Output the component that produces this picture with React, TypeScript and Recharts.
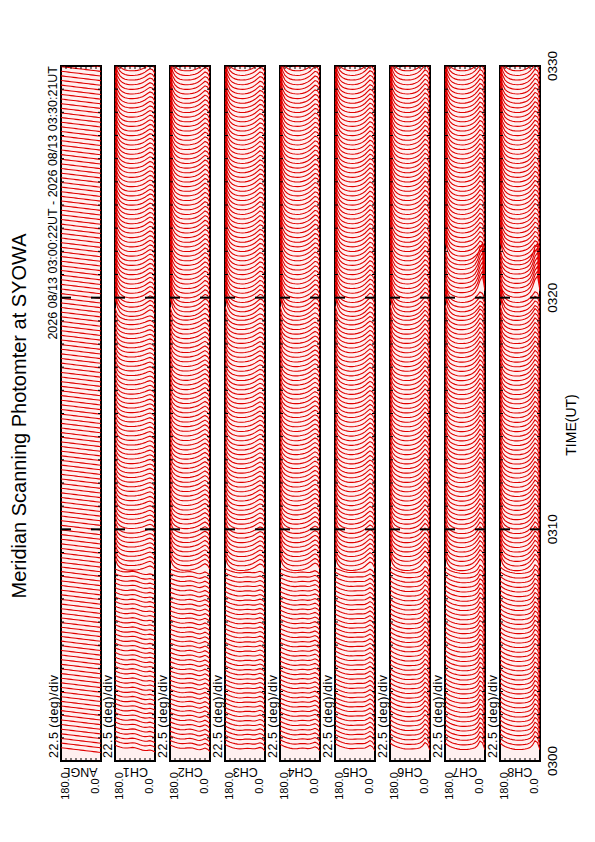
import React, { useMemo } from 'react';
import { LineChart, Line, XAxis, YAxis, ReferenceArea } from 'recharts';

// ---------- data ----------
const CHANNELS = ['ANGL', 'CH1', 'CH2', 'CH3', 'CH4', 'CH5', 'CH6', 'CH7', 'CH8'];
const ANGLES = [180, 168.75, 157.5, 146.25, 135, 123.75, 112.5, 101.25, 90, 78.75, 67.5, 56.25, 45, 33.75, 22.5, 11.25, 0];
const ANGLE_TICKS = [0, 22.5, 45, 67.5, 90, 112.5, 135, 157.5, 180];
const ANGLE_LABEL_TICKS = [0, 180];
const MINUTE_TICKS_S = [0, 60, 120, 180, 240, 300, 360, 420, 480, 540, 600, 660, 720, 780, 840, 900, 960, 1020, 1080, 1140, 1200, 1260, 1320, 1380, 1440, 1500, 1560, 1620, 1680, 1740, 1800];
const MAJOR_TICKS_S = [600, 1200];
const TIME_TICKS_S = [0, 600, 1200, 1800];
const TIME_TICK_LABELS = ['0300', '0310', '0320', '0330'];

// scans: first scan 03:00:22, one scan every 12 s
const SCAN_FIRST_S = 22;
const SCAN_STEP_S = 12;
const SCAN_COUNT = 149;
const EPOCH_STARTS_S = [0, 480, 1140];
const BURST_WINDOW_S = [1190, 1290];
const SECONDS_PER_UNIT = 3.9;

// profiles across the scan (180 deg -> 0 deg)
const ANGL_P = [3.2, 3.0, 2.8, 2.6, 2.4, 2.2, 2.0, 1.8, 1.6, 1.4, 1.2, 1.0, 0.8, 0.6, 0.4, 0.2, 0.0];

const CH1_E1 = [5.0, 4.2, 3.6, 3.2, 3.0, 3.0, 3.2, 3.4, 3.2, 2.7, 2.1, 1.6, 1.3, 1.4, 1.7, 1.2, 0.4];
const CH1_E2 = [9.0, 4.6, 2.9, 2.0, 1.5, 1.2, 1.1, 1.1, 1.2, 1.4, 1.7, 2.1, 2.7, 3.4, 3.9, 3.2, 1.4];
const CH1_E3 = [13.0, 6.2, 3.2, 1.8, 1.0, 0.6, 0.4, 0.4, 0.5, 0.7, 1.1, 1.7, 2.6, 3.8, 4.8, 4.2, 1.8];

const CH2_E1 = [5.0, 4.3, 3.7, 3.2, 2.9, 2.8, 2.9, 3.1, 3.2, 3.0, 2.5, 2.0, 1.8, 2.3, 3.0, 2.2, 0.6];
const CH2_E2 = [9.5, 4.8, 3.0, 2.0, 1.4, 1.1, 1.0, 1.0, 1.2, 1.5, 1.9, 2.5, 3.4, 4.5, 5.4, 4.4, 1.8];
const CH2_E3 = [13.5, 6.4, 3.3, 1.8, 1.0, 0.6, 0.4, 0.4, 0.5, 0.8, 1.2, 1.9, 3.0, 4.4, 5.8, 5.0, 2.0];

const CH3_E1 = [5.5, 4.5, 3.8, 3.2, 2.8, 2.5, 2.4, 2.5, 2.7, 2.8, 2.7, 2.5, 2.5, 2.9, 3.4, 2.8, 1.0];
const CH3_E2 = [10.0, 5.0, 3.1, 2.0, 1.4, 1.0, 0.9, 0.9, 1.0, 1.3, 1.7, 2.3, 3.2, 4.3, 5.2, 4.6, 2.2];
const CH3_E3 = [14.0, 6.8, 3.5, 2.0, 1.2, 0.7, 0.5, 0.4, 0.5, 0.8, 1.3, 2.0, 3.0, 4.4, 5.8, 5.2, 2.6];

const CH4_E1 = [5.5, 4.6, 3.9, 3.3, 2.9, 2.6, 2.5, 2.6, 2.8, 2.9, 2.8, 2.6, 2.7, 3.2, 3.8, 3.0, 1.0];
const CH4_E2 = [10.0, 5.0, 3.1, 2.0, 1.4, 1.0, 0.9, 0.9, 1.1, 1.4, 1.8, 2.5, 3.5, 4.8, 5.8, 5.0, 2.2];
const CH4_E3 = [14.0, 6.8, 3.5, 2.0, 1.2, 0.7, 0.5, 0.4, 0.5, 0.8, 1.3, 2.1, 3.2, 4.7, 6.2, 5.6, 2.6];

const CH5_E1 = [6.0, 5.0, 4.2, 3.6, 3.1, 2.8, 2.6, 2.6, 2.7, 2.8, 2.8, 2.8, 3.0, 3.8, 4.8, 3.8, 1.2];
const CH5_E2 = [10.5, 5.2, 3.2, 2.1, 1.5, 1.1, 0.9, 0.9, 1.1, 1.4, 1.9, 2.6, 3.7, 5.2, 6.5, 5.6, 2.4];
const CH5_E3 = [14.0, 6.8, 3.5, 2.0, 1.2, 0.7, 0.5, 0.4, 0.5, 0.8, 1.3, 2.1, 3.3, 5.0, 6.6, 5.8, 2.6];

const CH6_E1 = [6.5, 5.2, 4.3, 3.6, 3.1, 2.7, 2.4, 2.3, 2.3, 2.4, 2.5, 2.7, 3.2, 4.4, 6.6, 5.4, 1.6];
const CH6_E2 = [11.0, 5.4, 3.3, 2.2, 1.5, 1.1, 0.9, 0.9, 1.0, 1.3, 1.8, 2.6, 3.8, 5.6, 7.6, 6.2, 2.4];
const CH6_E3 = [14.0, 6.8, 3.5, 2.0, 1.2, 0.7, 0.5, 0.4, 0.5, 0.8, 1.3, 2.1, 3.4, 5.2, 7.2, 6.2, 2.6];

const CH7_E1 = [6.5, 5.0, 4.0, 3.3, 2.8, 2.4, 2.1, 2.0, 2.0, 2.1, 2.3, 2.6, 3.2, 4.6, 7.6, 6.4, 1.8];
const CH7_E2 = [11.0, 5.4, 3.2, 2.1, 1.4, 1.0, 0.8, 0.8, 0.9, 1.2, 1.7, 2.5, 3.8, 5.8, 8.4, 7.0, 2.6];
const CH7_E3 = [14.0, 6.8, 3.5, 2.0, 1.2, 0.7, 0.5, 0.4, 0.5, 0.8, 1.3, 2.1, 3.4, 5.2, 7.4, 6.4, 2.6];
const CH7_BURST = [11.0, 5.4, 3.2, 2.1, 1.4, 1.0, 0.8, 0.8, 0.9, 1.2, 1.7, 2.5, 4.0, 7.0, 12.0, 15.0, 5.0];

const CH8_E1 = [6.5, 5.0, 4.0, 3.3, 2.8, 2.4, 2.1, 2.0, 2.0, 2.1, 2.3, 2.6, 3.3, 4.8, 7.8, 6.6, 1.8];
const CH8_E2 = [11.0, 5.4, 3.2, 2.1, 1.4, 1.0, 0.8, 0.8, 0.9, 1.2, 1.7, 2.5, 3.9, 6.0, 8.6, 7.2, 2.6];
const CH8_E3 = [14.0, 6.8, 3.5, 2.0, 1.2, 0.7, 0.5, 0.4, 0.5, 0.8, 1.3, 2.1, 3.4, 5.3, 7.6, 6.6, 2.6];
const CH8_BURST = [11.0, 5.4, 3.2, 2.1, 1.4, 1.0, 0.8, 0.8, 0.9, 1.2, 1.7, 2.6, 4.2, 7.5, 12.5, 15.0, 5.0];

const PANEL_PROFILES = [
  [ANGL_P, ANGL_P, ANGL_P],
  [CH1_E1, CH1_E2, CH1_E3],
  [CH2_E1, CH2_E2, CH2_E3],
  [CH3_E1, CH3_E2, CH3_E3],
  [CH4_E1, CH4_E2, CH4_E3],
  [CH5_E1, CH5_E2, CH5_E3],
  [CH6_E1, CH6_E2, CH6_E3],
  [CH7_E1, CH7_E2, CH7_E3],
  [CH8_E1, CH8_E2, CH8_E3],
];
const PANEL_BURSTS = [null, null, null, null, null, null, null, CH7_BURST, CH8_BURST];

// ---------- layout ----------
const W = 842;
const H = 595;
const PLOT_LEFT = 81;
const PLOT_RIGHT = 776;
const PANEL_TOP0 = 60.5;
const PANEL_STEP = 54.9;
const PANEL_H = 40;
const PAD = 2;
const LABEL_AXIS_W = 40;
const FONT = '"Liberation Sans", Arial, Helvetica, sans-serif';
const RED = '#e00000';
const MINOR_LEN = 3;
const MAJOR_LEN = 10;

function buildTraces(index: number) {
  const profiles = PANEL_PROFILES[index];
  const burst = PANEL_BURSTS[index];
  const pts: { t: number; a: number | null }[] = [];
  for (let s = 0; s < SCAN_COUNT; s++) {
    const t = SCAN_FIRST_S + s * SCAN_STEP_S;
    let k = 0;
    EPOCH_STARTS_S.forEach((e, j) => {
      if (t >= e) k = j;
    });
    let prof = profiles[k];
    if (burst && t >= BURST_WINDOW_S[0] && t < BURST_WINDOW_S[1]) prof = burst;
    ANGLES.forEach((a, j) => pts.push({ t: t + prof[j] * SECONDS_PER_UNIT, a }));
    pts.push({ t, a: null });
  }
  return pts;
}

const timeTickLen = (v: number) => (MAJOR_TICKS_S.includes(v) ? MAJOR_LEN : MINOR_LEN);

const BottomTick = (p: any) => {
  const len = timeTickLen(p.payload.value);
  return <line x1={p.x} x2={p.x} y1={p.y} y2={p.y - len} stroke="#000" strokeWidth={len > 5 ? 2 : 1} />;
};
const TopTick = (p: any) => {
  const len = timeTickLen(p.payload.value);
  return <line x1={p.x} x2={p.x} y1={p.y} y2={p.y + len} stroke="#000" strokeWidth={len > 5 ? 2 : 1} />;
};
const LeftTick = (p: any) => <line x1={p.x} x2={p.x + MINOR_LEN} y1={p.y} y2={p.y} stroke="#000" strokeWidth={1} />;
const RightTick = (p: any) => <line x1={p.x} x2={p.x - MINOR_LEN} y1={p.y} y2={p.y} stroke="#000" strokeWidth={1} />;

const AngleLabelTick = (props: any) => {
  const { y, payload } = props;
  const v = payload.value as number;
  const dy = v === 180 ? 8 : -2.5;
  return (
    <text x={56} y={y + dy} textAnchor="middle" fontSize={11} fontFamily={FONT} fill="#000">
      {v.toFixed(1)}
    </text>
  );
};

const TimeLabelTick = (props: any) => {
  const { x, y, payload } = props;
  const label = TIME_TICK_LABELS[TIME_TICKS_S.indexOf(payload.value)];
  return (
    <text x={x} y={y + 17} textAnchor="middle" fontSize={13.5} fontFamily={FONT} fill="#000">
      {label}
    </text>
  );
};

function Panel({ index }: { index: number }) {
  const top = PANEL_TOP0 + index * PANEL_STEP;
  const isLast = index === CHANNELS.length - 1;
  const timeAxisH = isLast ? 24 : 0;
  const height = PANEL_H + 2 * PAD + timeAxisH;
  const data = useMemo(() => buildTraces(index), [index]);
  return (
    <div style={{ position: 'absolute', left: 0, top: top - PAD, width: W, height }}>
      <LineChart
        width={W}
        height={height}
        margin={{ top: PAD, bottom: PAD, left: PLOT_LEFT - LABEL_AXIS_W, right: W - PLOT_RIGHT }}
      >
        <XAxis xAxisId="b" type="number" dataKey="t" domain={[0, 1800]} allowDataOverflow orientation="bottom" mirror height={1}
          ticks={MINUTE_TICKS_S} interval={0} tick={BottomTick} tickSize={0} tickMargin={0} tickLine={false} axisLine={false} />
        <XAxis xAxisId="t" type="number" dataKey="t" domain={[0, 1800]} allowDataOverflow orientation="top" mirror height={1}
          ticks={MINUTE_TICKS_S} interval={0} tick={TopTick} tickSize={0} tickMargin={0} tickLine={false} axisLine={false} />
        {isLast && (
          <XAxis xAxisId="time" type="number" dataKey="t" domain={[0, 1800]} allowDataOverflow orientation="bottom" height={timeAxisH}
            ticks={TIME_TICKS_S} interval={0} tick={TimeLabelTick} tickSize={0} tickMargin={0} tickLine={false} axisLine={false} />
        )}
        <YAxis yAxisId="l" type="number" domain={[0, 180]} allowDataOverflow orientation="left" mirror width={1}
          ticks={ANGLE_TICKS} interval={0} tick={LeftTick} tickSize={0} tickMargin={0} tickLine={false} axisLine={false} />
        <YAxis yAxisId="r" type="number" domain={[0, 180]} allowDataOverflow orientation="right" mirror width={1}
          ticks={ANGLE_TICKS} interval={0} tick={RightTick} tickSize={0} tickMargin={0} tickLine={false} axisLine={false} />
        <YAxis yAxisId="lbl" type="number" domain={[0, 180]} allowDataOverflow orientation="left" width={LABEL_AXIS_W}
          ticks={ANGLE_LABEL_TICKS} interval={0} tick={AngleLabelTick} tickLine={false} axisLine={false} />
        <ReferenceArea xAxisId="b" yAxisId="l" x1={0} x2={1800} y1={0} y2={180} fill="#fff0f0" fillOpacity={1} stroke="none" />
        <Line xAxisId="b" yAxisId="l" data={data} dataKey="a" stroke={RED} strokeWidth={1.1} dot={false}
          activeDot={false} connectNulls={false} isAnimationActive={false} />
        <ReferenceArea xAxisId="t" yAxisId="r" x1={0} x2={1800} y1={0} y2={180} fill="none" stroke="#000" strokeWidth={2} />
      </LineChart>
    </div>
  );
}

function Overlay() {
  const txt = { fontFamily: FONT, fill: '#000' } as const;
  return (
    <svg width={W} height={H} style={{ position: 'absolute', left: 0, top: 0, pointerEvents: 'none' }}>
      <text x={426} y={26} fontSize={20} textAnchor="middle" {...txt}>Meridian Scanning Photomter at SYOWA</text>
      <text x={PLOT_RIGHT} y={57} fontSize={12.5} textAnchor="end" {...txt}>2026 08/13 03:00:22UT - 2026 08/13 03:30:21UT</text>
      <text x={417} y={575.5} fontSize={14} textAnchor="middle" {...txt}>TIME(UT)</text>
      {CHANNELS.map((ch, i) => {
        const top = PANEL_TOP0 + i * PANEL_STEP;
        const cy = top + PANEL_H / 2;
        return (
          <g key={ch}>
            <text x={84} y={top - 3} fontSize={12.5} letterSpacing={0.5} {...txt}>22.5 (deg)/div</text>
            <text x={74} y={cy} fontSize={12.5} textAnchor="middle" transform={`rotate(-90 74 ${cy})`} {...txt}>{ch}</text>
          </g>
        );
      })}
    </svg>
  );
}

export default function App() {
  return (
    <div style={{ position: 'absolute', left: 0, top: 0, width: 595, height: 842, overflow: 'hidden', background: '#fff' }}>
      <div
        style={{
          position: 'absolute',
          left: 0,
          top: 0,
          width: W,
          height: H,
          transformOrigin: '0 0',
          transform: `translateY(${W}px) rotate(-90deg)`,
        }}
      >
        {CHANNELS.map((ch, i) => (
          <Panel key={ch} index={i} />
        ))}
        <Overlay />
      </div>
    </div>
  );
}
